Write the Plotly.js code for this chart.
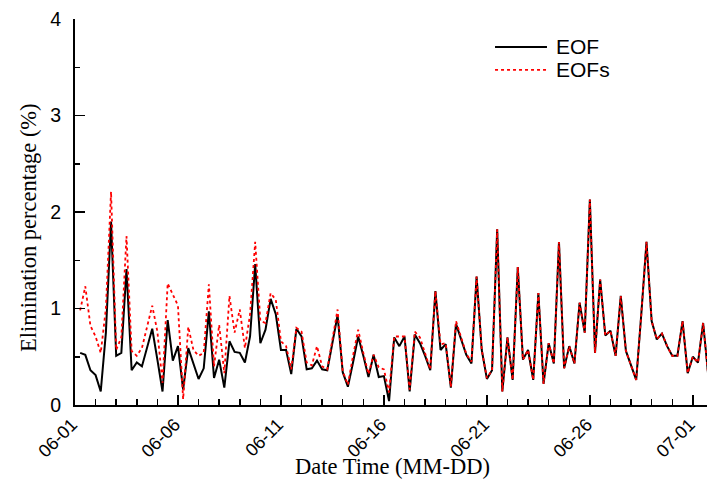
<!DOCTYPE html>
<html>
<head>
<meta charset="utf-8">
<script src="https://cdn.plot.ly/plotly-3.0.1.min.js"></script>
<style>html,body{margin:0;padding:0;background:#fff;}#chart{width:707px;height:492px;}</style>
</head>
<body>
<div id="chart"></div>
<script>
var times = [
"2020-06-01 06:00","2020-06-01 12:00","2020-06-01 18:00",
"2020-06-02 00:00","2020-06-02 06:00","2020-06-02 12:00","2020-06-02 18:00",
"2020-06-03 00:00","2020-06-03 06:00","2020-06-03 12:00","2020-06-03 18:00",
"2020-06-04 00:00","2020-06-04 06:00","2020-06-04 12:00","2020-06-04 18:00",
"2020-06-05 00:00","2020-06-05 06:00","2020-06-05 12:00","2020-06-05 18:00",
"2020-06-06 00:00","2020-06-06 06:00","2020-06-06 12:00","2020-06-06 18:00",
"2020-06-07 00:00","2020-06-07 06:00","2020-06-07 12:00","2020-06-07 18:00",
"2020-06-08 00:00","2020-06-08 06:00","2020-06-08 12:00","2020-06-08 18:00",
"2020-06-09 00:00","2020-06-09 06:00","2020-06-09 12:00","2020-06-09 18:00",
"2020-06-10 00:00","2020-06-10 06:00","2020-06-10 12:00","2020-06-10 18:00",
"2020-06-11 00:00","2020-06-11 06:00","2020-06-11 12:00","2020-06-11 18:00",
"2020-06-12 00:00","2020-06-12 06:00","2020-06-12 12:00","2020-06-12 18:00",
"2020-06-13 00:00","2020-06-13 06:00","2020-06-13 12:00","2020-06-13 18:00",
"2020-06-14 00:00","2020-06-14 06:00","2020-06-14 12:00","2020-06-14 18:00",
"2020-06-15 00:00","2020-06-15 06:00","2020-06-15 12:00","2020-06-15 18:00",
"2020-06-16 00:00","2020-06-16 06:00","2020-06-16 12:00","2020-06-16 18:00",
"2020-06-17 00:00","2020-06-17 06:00","2020-06-17 12:00","2020-06-17 18:00",
"2020-06-18 00:00","2020-06-18 06:00","2020-06-18 12:00","2020-06-18 18:00",
"2020-06-19 00:00","2020-06-19 06:00","2020-06-19 12:00","2020-06-19 18:00",
"2020-06-20 00:00","2020-06-20 06:00","2020-06-20 12:00","2020-06-20 18:00",
"2020-06-21 00:00","2020-06-21 06:00","2020-06-21 12:00","2020-06-21 18:00",
"2020-06-22 00:00","2020-06-22 06:00","2020-06-22 12:00","2020-06-22 18:00",
"2020-06-23 00:00","2020-06-23 06:00","2020-06-23 12:00","2020-06-23 18:00",
"2020-06-24 00:00","2020-06-24 06:00","2020-06-24 12:00","2020-06-24 18:00",
"2020-06-25 00:00","2020-06-25 06:00","2020-06-25 12:00","2020-06-25 18:00",
"2020-06-26 00:00","2020-06-26 06:00","2020-06-26 12:00","2020-06-26 18:00",
"2020-06-27 00:00","2020-06-27 06:00","2020-06-27 12:00","2020-06-27 18:00",
"2020-06-28 00:00","2020-06-28 06:00","2020-06-28 12:00","2020-06-28 18:00",
"2020-06-29 00:00","2020-06-29 06:00","2020-06-29 12:00","2020-06-29 18:00",
"2020-06-30 00:00","2020-06-30 06:00","2020-06-30 12:00","2020-06-30 18:00",
"2020-07-01 00:00","2020-07-01 06:00","2020-07-01 12:00","2020-07-01 18:00"
];

var eof = [
0.54,0.52,0.36,
0.31,0.14,0.75,1.90,
0.51,0.54,1.41,0.36,
0.44,0.40,0.60,0.79,
0.47,0.14,0.88,0.46,
0.61,0.16,0.59,0.44,
0.27,0.38,0.97,0.28,
0.47,0.18,0.66,0.55,
0.54,0.44,0.71,1.46,
0.64,0.78,1.10,0.94,
0.57,0.57,0.32,0.79,
0.71,0.37,0.38,0.46,
0.37,0.36,0.64,0.93,
0.34,0.19,0.44,0.71,
0.51,0.29,0.52,0.29,
0.30,0.04,0.70,0.61,
0.71,0.14,0.73,0.64,
0.51,0.36,1.18,0.57,
0.63,0.18,0.84,0.68,
0.52,0.43,1.33,0.57,
0.27,0.36,1.82,0.14,
0.70,0.26,1.43,0.47,
0.57,0.26,1.16,0.22,
0.64,0.43,1.69,0.38,
0.61,0.43,1.06,0.75,
2.13,0.54,1.30,0.72,
0.77,0.51,1.13,0.56,
0.40,0.26,0.95,1.69,
0.87,0.68,0.74,0.61,
0.51,0.51,0.87,0.33,
0.50,0.44,0.85,0.30
];

var eofs = [
0.98,1.23,0.82,
0.71,0.54,1.00,2.21,
0.57,0.70,1.75,0.56,
0.51,0.59,0.82,1.03,
0.76,0.23,1.26,1.14,
1.03,0.06,0.81,0.57,
0.51,0.54,1.25,0.40,
0.83,0.33,1.13,0.75,
0.99,0.59,0.94,1.69,
0.87,0.85,1.16,1.09,
0.66,0.61,0.37,0.80,
0.76,0.44,0.41,0.61,
0.40,0.37,0.70,0.99,
0.35,0.21,0.51,0.78,
0.54,0.32,0.52,0.39,
0.37,0.13,0.71,0.71,
0.71,0.16,0.76,0.70,
0.54,0.37,1.18,0.63,
0.64,0.19,0.87,0.70,
0.53,0.45,1.33,0.57,
0.28,0.36,1.82,0.14,
0.70,0.26,1.43,0.47,
0.57,0.26,1.16,0.22,
0.64,0.43,1.69,0.38,
0.61,0.43,1.06,0.75,
2.13,0.54,1.30,0.72,
0.77,0.51,1.13,0.56,
0.40,0.26,0.95,1.69,
0.87,0.68,0.74,0.61,
0.51,0.51,0.87,0.33,
0.50,0.44,0.85,0.30
];

var seriesNames = ["EOF", "EOFs"];
var seriesColors = ["#000000", "#ff0000"];
var xTitle = "Date Time (MM-DD)";
var yTitle = "Elimination percentage (%)";

var traces = [
  {x: times, y: eof, name: seriesNames[0], type: "scatter", mode: "lines",
   line: {color: seriesColors[0], width: 2}, showlegend: false},
  {x: times, y: eofs, name: seriesNames[1], type: "scatter", mode: "lines",
   line: {color: seriesColors[1], width: 1.8, dash: "dot"}, showlegend: false}
];

var yTickFont = {family: "Arial, 'Liberation Sans', sans-serif", size: 19.5, color: "#000"};
var xTickFont = {family: "Arial, 'Liberation Sans', sans-serif", size: 18, color: "#000"};
var titleFont = {family: "'Times New Roman', 'Liberation Serif', serif", size: 22.5, color: "#000"};
var legFont = {family: "Arial, 'Liberation Sans', sans-serif", size: 21, color: "#000"};

// legend drawn in paper coordinates
var legRows = [0.9275, 0.868];
var shapes = [
  {type: "line", xref: "paper", yref: "paper", x0: 0.6646, x1: 0.7468, y0: legRows[0], y1: legRows[0],
   line: {color: seriesColors[0], width: 2}},
  {type: "line", xref: "paper", yref: "paper", x0: 0.6646, x1: 0.7468, y0: legRows[1], y1: legRows[1],
   line: {color: seriesColors[1], width: 1.8, dash: "dot"}}
];
var annotations = [
  {xref: "paper", yref: "paper", x: 0.758, y: legRows[0], xanchor: "left", yanchor: "middle",
   text: seriesNames[0], showarrow: false, font: legFont},
  {xref: "paper", yref: "paper", x: 0.758, y: legRows[1], xanchor: "left", yanchor: "middle",
   text: seriesNames[1], showarrow: false, font: legFont},
  {xref: "paper", yref: "paper", x: 0.5016, y: -0.1606, xanchor: "center", yanchor: "middle",
   text: xTitle, showarrow: false, font: titleFont},
  {xref: "paper", yref: "paper", x: -0.0744, y: 0.461, xanchor: "center", yanchor: "middle",
   text: yTitle, textangle: -90, showarrow: false, font: titleFont}
];

var layout = {
  width: 707, height: 492,
  margin: {l: 75, r: 0, t: 19, b: 87, pad: 0},
  paper_bgcolor: "#fff", plot_bgcolor: "#fff",
  showlegend: false,
  shapes: shapes,
  annotations: annotations,
  xaxis: {
    type: "date",
    range: ["2020-06-01 00:00", "2020-07-01 16:30"],
    tick0: "2020-06-01", dtick: 5 * 86400000,
    tickformat: "%m-%d", tickangle: -45,
    ticks: "inside", ticklen: 10, tickwidth: 1.5, tickcolor: "#000",
    ticklabelshift: -3, ticklabelstandoff: 0,
    minor: {dtick: 86400000, ticks: "inside", ticklen: 6, tickwidth: 1.5, tickcolor: "#000", showgrid: false},
    showline: true, linecolor: "#000", linewidth: 2,
    showgrid: false, zeroline: false,
    tickfont: xTickFont
  },
  yaxis: {
    range: [0, 4], tick0: 0, dtick: 1,
    ticks: "inside", ticklen: 10, tickwidth: 1.5, tickcolor: "#000",
    ticklabelstandoff: 8,
    minor: {dtick: 0.5, ticks: "inside", ticklen: 5, tickwidth: 1.5, tickcolor: "#000", showgrid: false},
    showline: true, linecolor: "#000", linewidth: 2,
    showgrid: false, zeroline: false,
    tickfont: yTickFont
  }
};

Plotly.newPlot("chart", traces, layout, {displayModeBar: false, staticPlot: true});
</script>
</body>
</html>
